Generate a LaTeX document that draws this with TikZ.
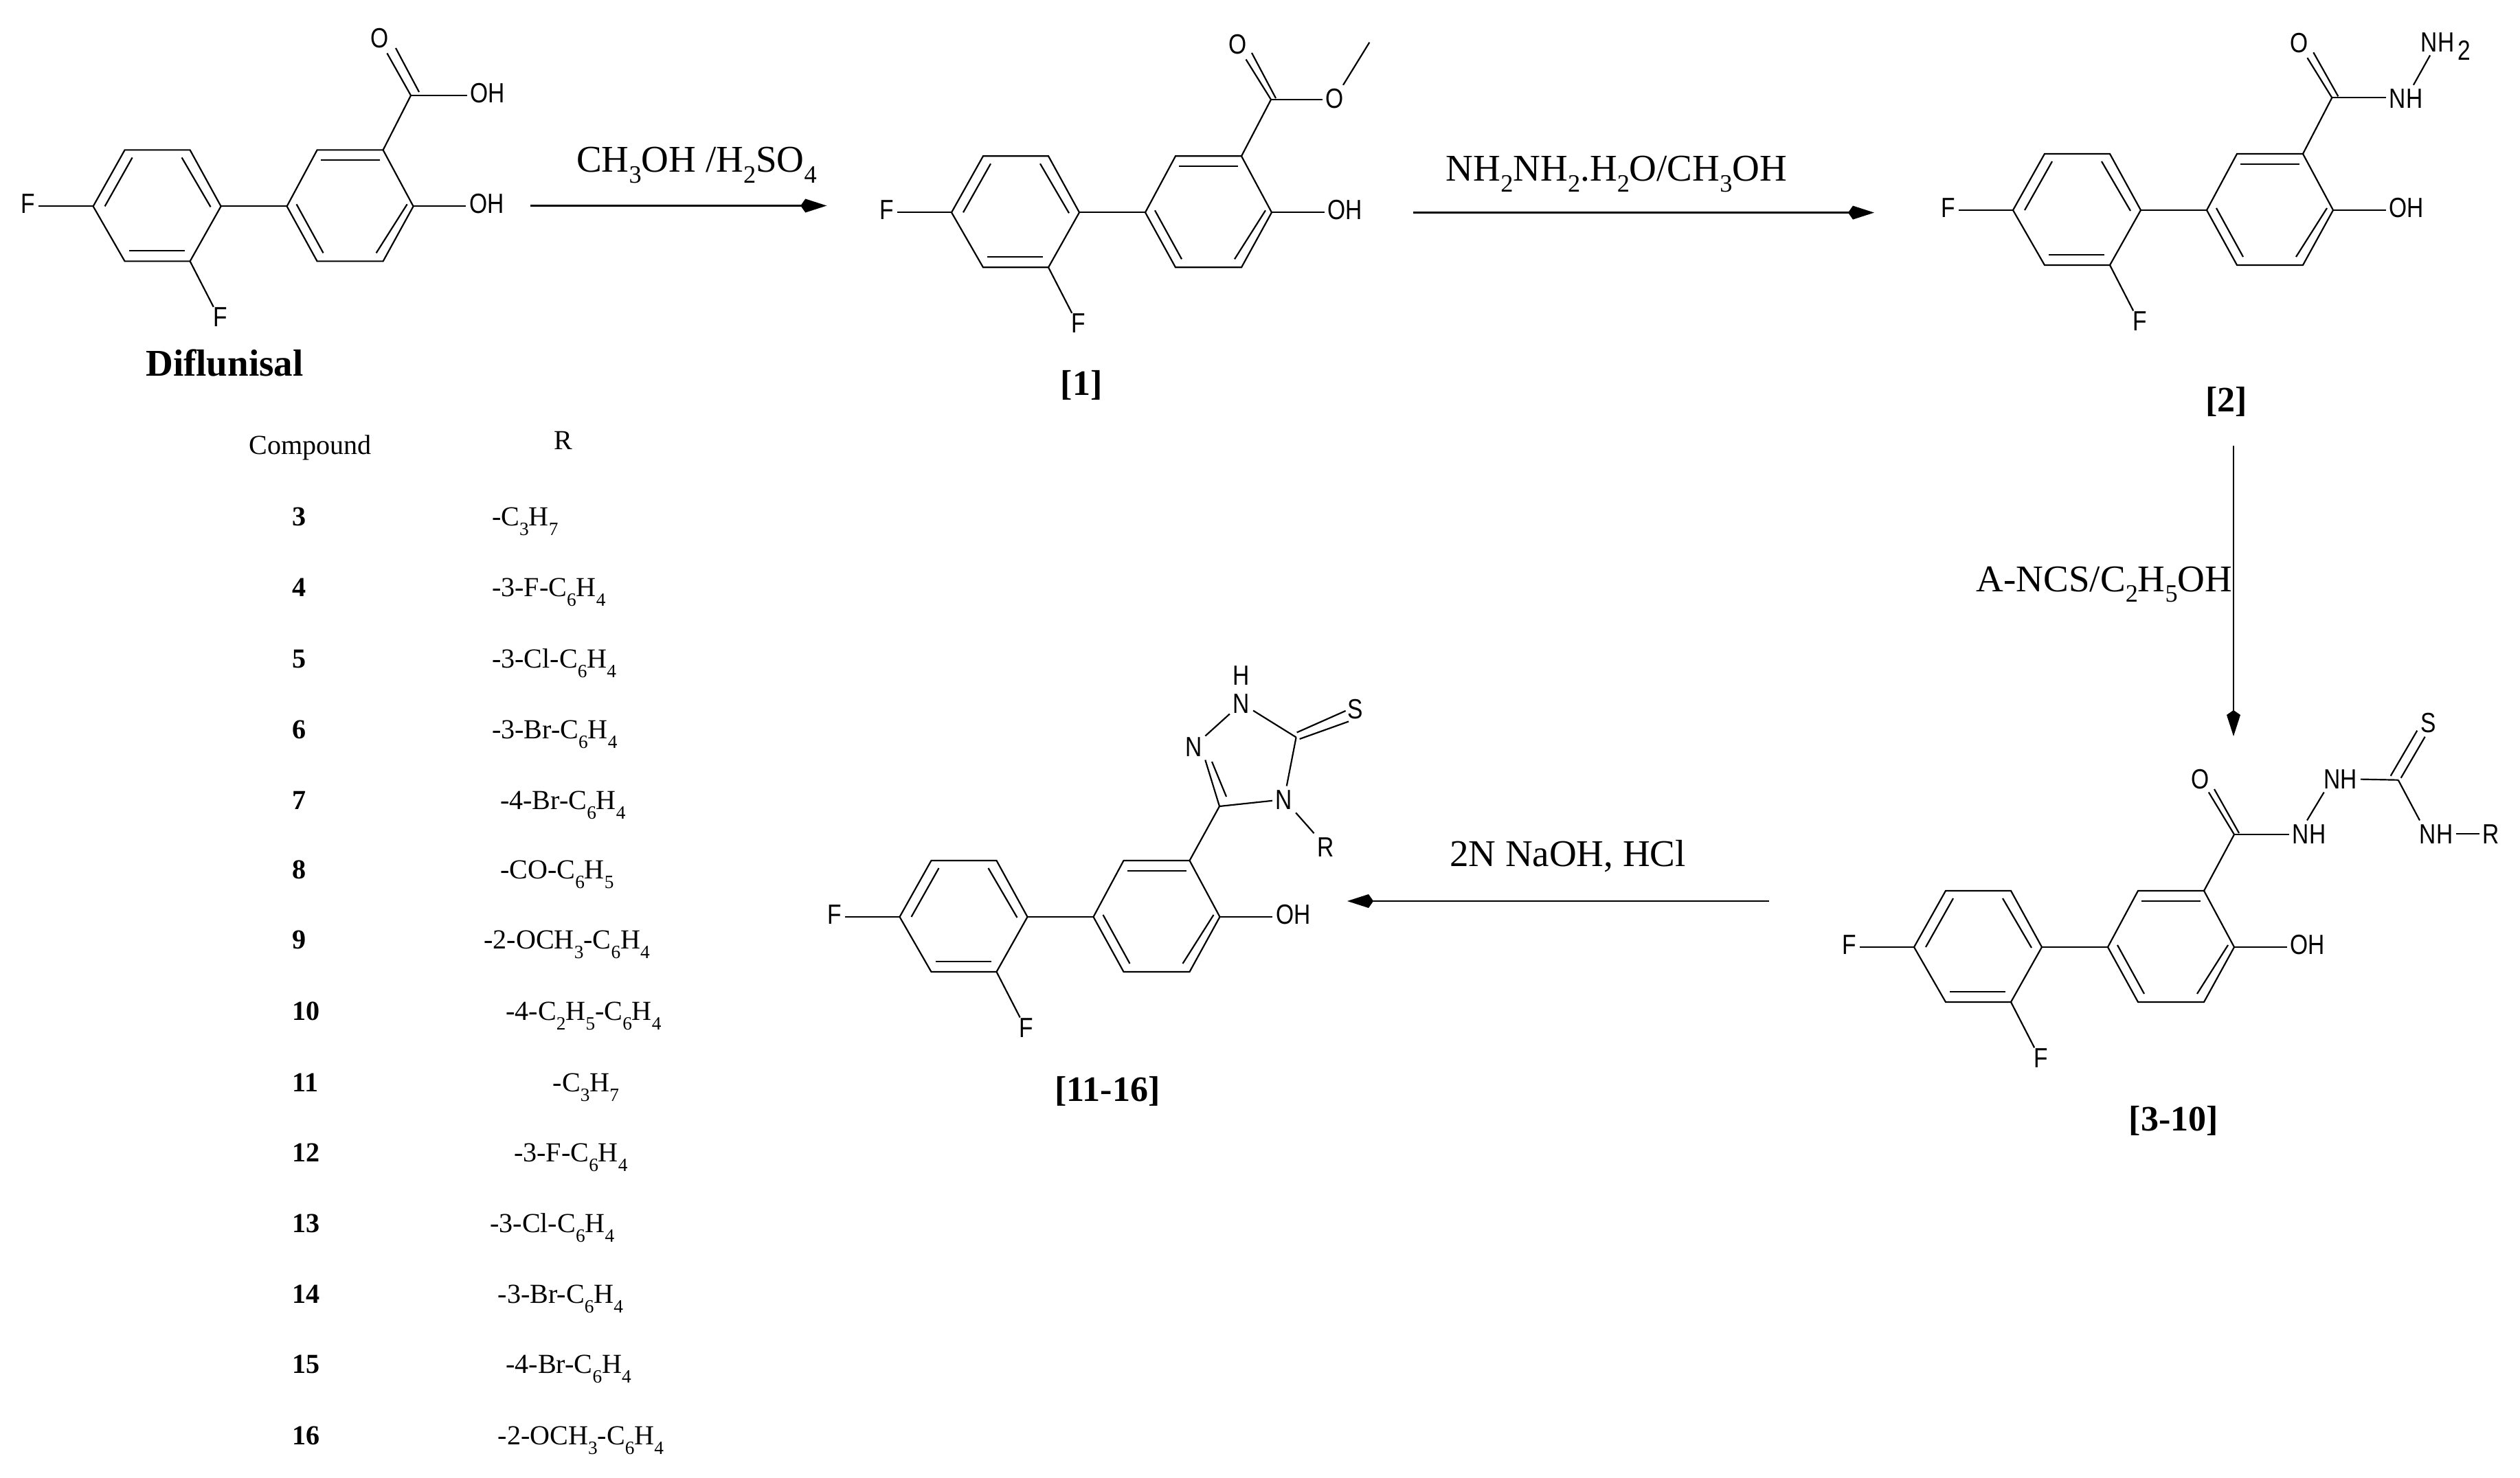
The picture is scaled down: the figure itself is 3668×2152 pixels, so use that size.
\documentclass[tikz,border=0pt]{standalone}
\usepackage{fontspec}
\usepackage{graphicx}
\setmainfont{Liberation Serif}
\newfontfamily\chemfont[FakeStretch=0.83]{Liberation Sans}
\usetikzlibrary{arrows.meta}
\newcommand\sbs[1]{\raisebox{-.28em}{\scalebox{.66}{#1}}}
\newcommand\tsb[1]{\raisebox{-.36em}{\scalebox{.68}{#1}}}
\tikzset{
  bond/.style={line width=0.62pt,line join=miter},
  rxn/.style={line width=0.7pt,-{Kite[length=.38cm,width=.2cm,inset=.07cm]}},
  atom/.style={font=\chemfont\fontsize{11.5}{12}\selectfont,inner xsep=.05cm,inner ysep=0pt,outer sep=0pt,text height=.29cm,text depth=.08cm},
  atomc/.style={font=\chemfont\fontsize{11.5}{12}\selectfont,inner xsep=.05cm,inner ysep=.05cm,outer sep=0pt,text height=.29cm,text depth=0pt},
  rxntext/.style={font=\fontsize{15.65}{17}\selectfont,inner sep=0pt},
  cpdlabel/.style={font=\bfseries\fontsize{14.8}{16}\selectfont,inner sep=0pt},
  tabtext/.style={font=\fontsize{11.4}{13}\selectfont,inner sep=0pt,anchor=base west},
  tabnum/.style={font=\bfseries\fontsize{11.4}{13}\selectfont,inner sep=0pt,anchor=base west},
  biaryl/.pic={
    \coordinate (-a1) at (0,0);
    \coordinate (-a2) at (46,-82);
    \coordinate (-a3) at (141,-82);
    \coordinate (-a4) at (186,0);
    \coordinate (-a5) at (141,80);
    \coordinate (-a6) at (46,80);
    \coordinate (-b1) at (282,0);
    \coordinate (-b2) at (326,-82);
    \coordinate (-b3) at (422,-82);
    \coordinate (-b4) at (466,0);
    \coordinate (-b5) at (422,80);
    \coordinate (-b6) at (326,80);
    \draw[bond] (-a1)--(-a2)--(-a3)--(-a4)--(-a5)--(-a6)--cycle;
    \draw[bond] (-b1)--(-b2)--(-b3)--(-b4)--(-b5)--(-b6)--cycle;
    \draw[bond] (-a4)--(-b1);
    \draw[bond] (17,0)--(57,-71);
    \draw[bond] (129,-71)--(171,1);
    \draw[bond] (52,65)--(133,65);
    \draw[bond] (296,-3)--(335,68);
    \draw[bond] (331,-67)--(417,-67);
    \draw[bond] (412,68)--(457,-3);
    \node[atom] (-f1) at (-94.5,0) {F};
    \node[atom] (-f2) at (184.7,165) {F};
    \node[atom] (-oh) at (573,0) {OH};
    \draw[bond] (-f1)--(-a1);
    \draw[bond] (-a5)--(-f2);
    \draw[bond] (-b4)--(-oh);
  }
}
\begin{document}
\begin{tikzpicture}[x=.01cm,y=-.01cm]
\path[use as bounding box,fill=white] (0,0) rectangle (3668,2152);

% Diflunisal
\pic (m0) at (135.6,300.4) {biaryl};
\coordinate (m0c) at (598,139);
\node[atom] (m0o) at (553,59) {O};
\node[atom] (m0oh) at (710,139) {OH};
\draw[bond] (m0-b3)--(m0c);
\draw[bond] (m0o)--(m0c);
\draw[bond] ([shift={(-22,-69)}]m0c)--([shift={(12,-5)}]m0c);
\draw[bond] (m0c)--(m0oh);
\node[font=\bfseries\fontsize{15.65}{17}\selectfont,inner sep=0pt] (m0name) at (327,528) {Diflunisal};

% Compound 1
\pic (m1) at (1385,309.3) {biaryl};
\coordinate (m1c) at (1850,145);
\coordinate (m1me) at (1993.3,61.7);
\node[atom] (m1o) at (1802,68) {O};
\node[atomc] (m1oe) at (1943,143.3) {O};
\draw[bond] (m1-b3)--(m1c);
\draw[bond] (m1o)--(m1c);
\draw[bond] ([shift={(-28,-68)}]m1c)--([shift={(7,-2)}]m1c);
\draw[bond] (m1c)--(m1oe.west |- m1c);
\draw[bond] (m1oe)--(m1me);
\node[cpdlabel] (m1name) at (1574,561) {[1]};

% Compound 2
\pic (m2) at (2930,306) {biaryl};
\coordinate (m2c) at (3394.3,142.3);
\node[atom] (m2o) at (3347,65.7) {O};
\node[atomc] (m2nh) at (3502,143.3) {NH};
\node[atomc] (m2nh2) at (3548,61) {NH\rlap{\kern.12em\raisebox{-.12cm}{2}}};
\draw[bond] (m2-b3)--(m2c);
\draw[bond] (m2o)--(m2c);
\draw[bond] ([shift={(-27,-66)}]m2c)--([shift={(9,-2)}]m2c);
\draw[bond] (m2c)--(m2nh.west |- m2c);
\draw[bond] (m2nh)--(m2nh2);
\node[cpdlabel] (m2name) at (3240.7,584.6) {[2]};

% Compound 3-10
\pic (m3) at (2786,1379) {biaryl};
\coordinate (m3c) at (3252,1215);
\coordinate (m3cs) at (3490.7,1135.7);
\node[atomc] (m3o) at (3203,1134) {O};
\node[atomc] (m3n1) at (3361,1214) {NH};
\node[atomc] (m3n2) at (3406.7,1134) {NH};
\node[atomc] (m3s) at (3534.6,1052) {S};
\node[atomc] (m3n3) at (3546,1214) {NH};
\node[atomc] (m3r) at (3626,1214) {R};
\draw[bond] (m3-b3)--(m3c);
\draw[bond] (m3o)--(m3c);
\draw[bond] ([shift={(-29,-66)}]m3c)--([shift={(7,-2)}]m3c);
\draw[bond] (m3c)--(m3n1.west |- m3c);
\draw[bond] ([xshift=-.03cm]m3n1.north)--([xshift=-.24cm]m3n2.south);
\draw[bond] (m3n2)--(m3cs);
\draw[bond] ([shift={(-11,-6)}]m3cs)--([shift={(27.6,-72)}]m3cs);
\draw[bond] ([shift={(4,-3)}]m3cs)--([shift={(39,-63)}]m3cs);
\draw[bond] (m3cs)--([xshift=-.24cm]m3n3.north);
\draw[bond] (m3n3)--(m3r);
\node[cpdlabel] (m3name) at (3164,1632) {[3-10]};

% Compound 11-16
\pic (m4) at (1309.5,1335) {biaryl};
\coordinate (m4c3) at (1775,1174);
\coordinate (m4c5) at (1886.6,1073.5);
\node[atomc] (m4h) at (1807,982.6) {H};
\node[atomc] (m4n1) at (1807,1024) {N};
\node[atomc] (m4n2) at (1737.3,1087) {N};
\node[atomc] (m4n4) at (1869,1164) {N};
\node[atomc] (m4s) at (1973,1031.6) {S};
\node[atomc] (m4r) at (1929.7,1232.6) {R};
\draw[bond] (m4-b3)--(m4c3);
\draw[bond] (m4c3)--(m4n4);
\draw[bond] (m4n4)--(m4r);
\draw[bond] (m4n4)--(m4c5);
\draw[bond] (m4n1)--(m4c5);
\draw[bond] (m4n1)--(m4n2);
\draw[bond] ([xshift=.17cm]m4n2.south)--(m4c3);
\draw[bond] ([shift={(10,-14)}]m4c3)--([shift={(-11,-65)}]m4c3);
\draw[bond] ([shift={(1,-7)}]m4c5)--([shift={(72,-38.5)}]m4c5);
\draw[bond] ([shift={(5,2.5)}]m4c5)--([shift={(76.4,-23)}]m4c5);
\node[cpdlabel] (m4name) at (1612,1589) {[11-16]};

% Reaction arrows
\coordinate (r1a) at (772,299.5);
\coordinate (r1b) at (1203.3,299.5);
\coordinate (r2a) at (2056.6,309.6);
\coordinate (r2b) at (2728,309.6);
\coordinate (r3a) at (3251,649);
\coordinate (r3b) at (3251,1072);
\coordinate (r4a) at (2575,1312);
\coordinate (r4b) at (1961,1312);
\draw[rxn] (r1a)--(r1b);
\draw[rxn] (r2a)--(r2b);
\draw[rxn] (r3a)--(r3b);
\draw[rxn] (r4a)--(r4b);
\node[rxntext,anchor=base] (r1t) at (1014,251) {CH\sbs{3}OH /H\sbs{2}SO\sbs{4}};
\node[rxntext,anchor=base] (r2t) at (2353,264) {NH\sbs{2}NH\sbs{2}.H\sbs{2}O/CH\sbs{3}OH};
\node[rxntext,anchor=base east] (r3t) at (3250,861) {A-NCS/C\sbs{2}H\sbs{5}OH};
\node[rxntext,anchor=base] (r4t) at (2282,1261) {2N NaOH, HCl};

% Table
\node[tabtext,anchor=base] (thc) at (451.7,662) {Compound};
\node[tabtext,anchor=base] (thr) at (819.6,654.6) {R};
\foreach \nm/\yb/\xr/\txt in {
  3/765.5/715.4/{-C\tsb{3}H\tsb{7}},
  4/868.5/715.4/{-3-F-C\tsb{6}H\tsb{4}},
  5/972/715.4/{-3-Cl-C\tsb{6}H\tsb{4}},
  6/1075/715.4/{-3-Br-C\tsb{6}H\tsb{4}},
  7/1178/727.5/{-4-Br-C\tsb{6}H\tsb{4}},
  8/1279/727.5/{-CO-C\tsb{6}H\tsb{5}},
  9/1381/703.8/{-2-OCH\tsb{3}-C\tsb{6}H\tsb{4}},
  10/1485.5/735.8/{-4-C\tsb{2}H\tsb{5}-C\tsb{6}H\tsb{4}},
  11/1589/804/{-C\tsb{3}H\tsb{7}},
  12/1691.5/747.5/{-3-F-C\tsb{6}H\tsb{4}},
  13/1794.5/712.6/{-3-Cl-C\tsb{6}H\tsb{4}},
  14/1897/724/{-3-Br-C\tsb{6}H\tsb{4}},
  15/1999.5/735.8/{-4-Br-C\tsb{6}H\tsb{4}},
  16/2103.5/724/{-2-OCH\tsb{3}-C\tsb{6}H\tsb{4}}}
{
  \node[tabnum] (tn\nm) at (425,\yb) {\nm};
  \node[tabtext] (tr\nm) at (\xr,\yb) {\txt};
}
\end{tikzpicture}
\end{document}
